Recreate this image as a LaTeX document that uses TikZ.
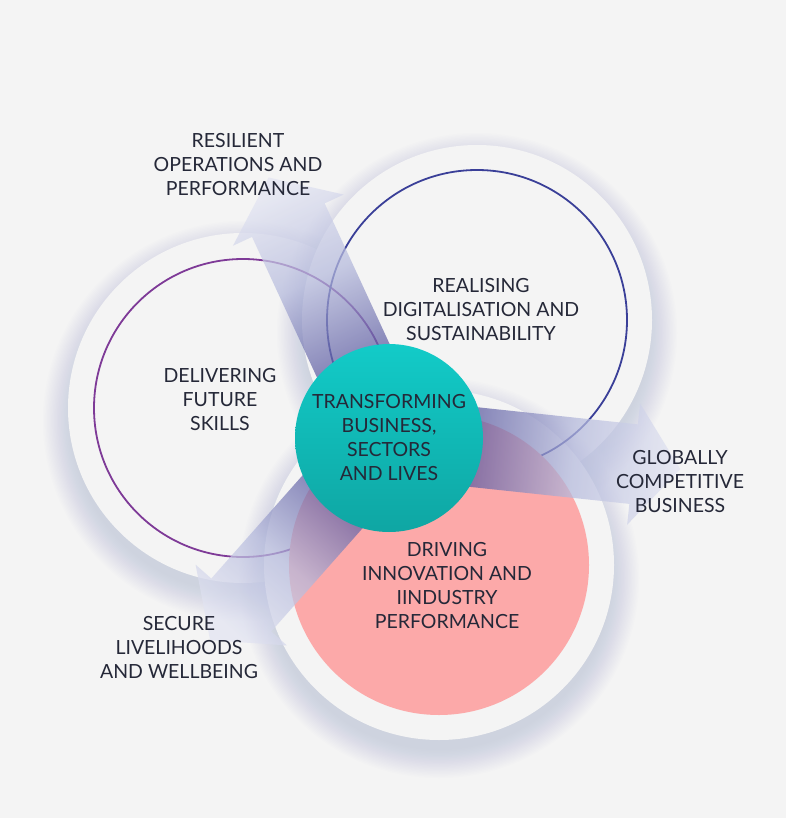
\documentclass[tikz,border=0pt]{standalone}
\usepackage{fontspec}
\setmainfont{Lato}
\usetikzlibrary{calc}

\definecolor{bggray}{HTML}{F4F4F4}
\definecolor{glowblue}{HTML}{A9B3DE}
\definecolor{inktext}{HTML}{252838}
\definecolor{skillline}{HTML}{7E3A97}
\definecolor{digiline}{HTML}{3A3F98}
\definecolor{innopink}{HTML}{FCA9A9}
\definecolor{hubtop}{HTML}{12CBC8}
\definecolor{hubbottom}{HTML}{0FA6A3}
\definecolor{arrowdark}{HTML}{5A59A0}
\definecolor{arrowmid}{HTML}{B4B9DC}
\definecolor{arrowlight}{HTML}{E2E4F2}

\pgfdeclarelayer{back}
\pgfdeclarelayer{mid}
\pgfsetlayers{back,mid,main}

\tikzset{
  lbl/.style={font=\fontsize{19.5}{24}\selectfont, text=inktext, align=center},
  ring/.style={fill=bggray},
  arrowshade/.style={top color=arrowlight, bottom color=arrowdark, middle color=arrowmid, fill opacity=0.72},
}

\begin{document}
\begin{tikzpicture}[x=1pt,y=1pt]
\useasboundingbox (0,0) rectangle (786,-818);

% centre hub
\node[circle, minimum size=188pt, inner sep=0pt, top color=hubtop, bottom color=hubbottom, lbl] (hub) at (389,-438) {TRANSFORMING\\BUSINESS,\\SECTORS\\AND LIVES};

% the three big circles
\coordinate (cSkills) at (243,-408);
\coordinate (cDigi) at (477,-320);
\coordinate (cInno) at (439,-565);

\begin{pgfonlayer}{back}
  \fill[bggray] (0,0) rectangle (786,-818);
  \foreach \c in {cSkills,cDigi,cInno}{
    \foreach \k in {0,...,6}
      \fill[white, opacity=0.05] ($(\c)+(0,10)$) circle ({174+3*\k});
    \foreach \k in {0,...,20}
      \fill[glowblue, opacity=0.022] ($(\c)+(0,-13)$) circle ({172+1.4*\k});
    \fill[ring] (\c) circle (175);
  }
  \draw[skillline, line width=1.8] (cSkills) circle (149);
  \draw[digiline, line width=1.8] (cDigi) circle (150);
  \fill[innopink] (cInno) circle (150);
\end{pgfonlayer}

% arrows out of the hub
\begin{pgfonlayer}{mid}
  \foreach \ang/\wb/\tp/\nm in {114.8/240/287/tipOps, -6.1/246/293/tipGlobal, 228.5/223/270/tipSecure}{
    \pgfmathsetmacro\sa{\ang-90}
    \coordinate (\nm) at ($(hub.center)+(\ang:\tp)$);
    \shade[arrowshade, shading angle=\sa]
      ($(hub.center)+(\ang:80)+(\ang+90:40)$) -- ($(hub.center)+(\ang:\wb)+(\ang+90:40)$)
      -- ($(hub.center)+(\ang:\wb)+(\ang+90:61)$) -- (\nm)
      -- ($(hub.center)+(\ang:\wb)+(\ang-90:61)$) -- ($(hub.center)+(\ang:\wb)+(\ang-90:40)$)
      -- ($(hub.center)+(\ang:80)+(\ang-90:40)$) -- cycle;
  }
\end{pgfonlayer}

% labels
\node[lbl] (skills) at (220,-400) {DELIVERING\\FUTURE\\SKILLS};
\node[lbl] (digi) at (481,-310) {REALISING\\DIGITALISATION AND\\SUSTAINABILITY};
\node[lbl] (inno) at (447,-586) {DRIVING\\INNOVATION AND\\IINDUSTRY\\PERFORMANCE};
\node[lbl] (ops) at (238,-165) {RESILIENT\\OPERATIONS AND\\PERFORMANCE};
\node[lbl] (global) at (680,-482) {GLOBALLY\\COMPETITIVE\\BUSINESS};
\node[lbl] (secure) at (179,-648) {SECURE\\LIVELIHOODS\\AND WELLBEING};
\end{tikzpicture}
\end{document}
